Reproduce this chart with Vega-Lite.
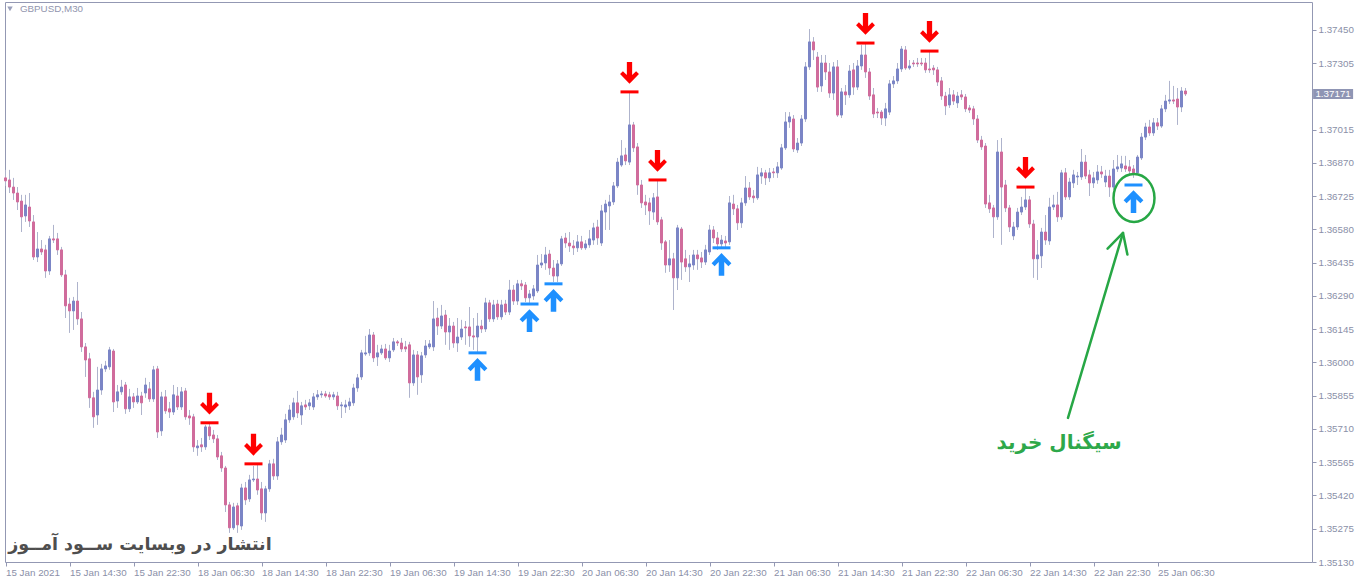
{
"$schema":"https://vega.github.io/schema/vega-lite/v6.json",
"width":1307,"height":560,
"autosize":{"type":"none"},
"padding":{"left":5,"top":2,"right":48,"bottom":19},
"background":"white",
"config":{"view":{"stroke":"#9398b3","strokeWidth":1},"axis":{"grid":false,"domain":false,"labelFont":"Liberation Sans","labelFontSize":9.8,"labelColor":"#8a8fa8","tickColor":"#9398b3"}},
"datasets":{
"candles":[
{"i":0,"o":1.36805,"h":1.36840,"l":1.36770,"c":1.36792},
{"i":1,"o":1.36796,"h":1.36840,"l":1.36739,"c":1.36765},
{"i":2,"o":1.36765,"h":1.36805,"l":1.36709,"c":1.36739},
{"i":3,"o":1.36739,"h":1.36765,"l":1.36665,"c":1.36700},
{"i":4,"o":1.36704,"h":1.36731,"l":1.36569,"c":1.36635},
{"i":5,"o":1.36639,"h":1.36731,"l":1.36613,"c":1.36687},
{"i":6,"o":1.36678,"h":1.36739,"l":1.36591,"c":1.36617},
{"i":7,"o":1.36613,"h":1.36643,"l":1.36447,"c":1.36460},
{"i":8,"o":1.36460,"h":1.36569,"l":1.36438,"c":1.36495},
{"i":9,"o":1.36495,"h":1.36534,"l":1.36469,"c":1.36482},
{"i":10,"o":1.36491,"h":1.36513,"l":1.36369,"c":1.36399},
{"i":11,"o":1.36399,"h":1.36552,"l":1.36382,"c":1.36539},
{"i":12,"o":1.36539,"h":1.36600,"l":1.36521,"c":1.36534},
{"i":13,"o":1.36539,"h":1.36565,"l":1.36469,"c":1.36491},
{"i":14,"o":1.36491,"h":1.36504,"l":1.36373,"c":1.36382},
{"i":15,"o":1.36382,"h":1.36404,"l":1.36194,"c":1.36247},
{"i":16,"o":1.36255,"h":1.36282,"l":1.36129,"c":1.36225},
{"i":17,"o":1.36225,"h":1.36286,"l":1.36142,"c":1.36268},
{"i":18,"o":1.36268,"h":1.36351,"l":1.36164,"c":1.36190},
{"i":19,"o":1.36190,"h":1.36220,"l":1.36046,"c":1.36068},
{"i":20,"o":1.36068,"h":1.36085,"l":1.35937,"c":1.36011},
{"i":21,"o":1.36016,"h":1.36042,"l":1.35802,"c":1.35846},
{"i":22,"o":1.35846,"h":1.35872,"l":1.35715,"c":1.35763},
{"i":23,"o":1.35771,"h":1.35981,"l":1.35728,"c":1.35880},
{"i":24,"o":1.35880,"h":1.35994,"l":1.35859,"c":1.35972},
{"i":25,"o":1.35972,"h":1.36007,"l":1.35959,"c":1.35985},
{"i":26,"o":1.35981,"h":1.36068,"l":1.35968,"c":1.36055},
{"i":27,"o":1.36050,"h":1.36059,"l":1.35784,"c":1.35828},
{"i":28,"o":1.35832,"h":1.35902,"l":1.35802,"c":1.35872},
{"i":29,"o":1.35872,"h":1.35924,"l":1.35859,"c":1.35893},
{"i":30,"o":1.35902,"h":1.35915,"l":1.35776,"c":1.35798},
{"i":31,"o":1.35798,"h":1.35885,"l":1.35784,"c":1.35850},
{"i":32,"o":1.35850,"h":1.35867,"l":1.35802,"c":1.35828},
{"i":33,"o":1.35828,"h":1.35889,"l":1.35819,"c":1.35854},
{"i":34,"o":1.35854,"h":1.35872,"l":1.35771,"c":1.35824},
{"i":35,"o":1.35867,"h":1.35933,"l":1.35846,"c":1.35902},
{"i":36,"o":1.35885,"h":1.35915,"l":1.35828,"c":1.35841},
{"i":37,"o":1.35841,"h":1.35985,"l":1.35828,"c":1.35968},
{"i":38,"o":1.35972,"h":1.35985,"l":1.35671,"c":1.35697},
{"i":39,"o":1.35702,"h":1.35872,"l":1.35680,"c":1.35850},
{"i":40,"o":1.35850,"h":1.35880,"l":1.35776,"c":1.35789},
{"i":41,"o":1.35798,"h":1.35828,"l":1.35758,"c":1.35784},
{"i":42,"o":1.35784,"h":1.35902,"l":1.35771,"c":1.35859},
{"i":43,"o":1.35854,"h":1.35893,"l":1.35793,"c":1.35806},
{"i":44,"o":1.35806,"h":1.35893,"l":1.35793,"c":1.35872},
{"i":45,"o":1.35876,"h":1.35889,"l":1.35750,"c":1.35763},
{"i":46,"o":1.35767,"h":1.35793,"l":1.35728,"c":1.35758},
{"i":47,"o":1.35763,"h":1.35776,"l":1.35610,"c":1.35632},
{"i":48,"o":1.35628,"h":1.35662,"l":1.35593,"c":1.35636},
{"i":49,"o":1.35641,"h":1.35671,"l":1.35610,"c":1.35632},
{"i":50,"o":1.35632,"h":1.35728,"l":1.35619,"c":1.35719},
{"i":51,"o":1.35719,"h":1.35733,"l":1.35662,"c":1.35680},
{"i":52,"o":1.35684,"h":1.35706,"l":1.35649,"c":1.35667},
{"i":53,"o":1.35667,"h":1.35684,"l":1.35575,"c":1.35588},
{"i":54,"o":1.35593,"h":1.35610,"l":1.35523,"c":1.35540},
{"i":55,"o":1.35540,"h":1.35549,"l":1.35348,"c":1.35379},
{"i":56,"o":1.35379,"h":1.35392,"l":1.35257,"c":1.35279},
{"i":57,"o":1.35279,"h":1.35388,"l":1.35270,"c":1.35370},
{"i":58,"o":1.35375,"h":1.35388,"l":1.35257,"c":1.35292},
{"i":59,"o":1.35287,"h":1.35471,"l":1.35270,"c":1.35453},
{"i":60,"o":1.35453,"h":1.35479,"l":1.35379,"c":1.35401},
{"i":61,"o":1.35405,"h":1.35510,"l":1.35392,"c":1.35488},
{"i":62,"o":1.35488,"h":1.35549,"l":1.35479,"c":1.35492},
{"i":63,"o":1.35492,"h":1.35558,"l":1.35423,"c":1.35444},
{"i":64,"o":1.35449,"h":1.35479,"l":1.35314,"c":1.35344},
{"i":65,"o":1.35344,"h":1.35462,"l":1.35305,"c":1.35449},
{"i":66,"o":1.35449,"h":1.35575,"l":1.35436,"c":1.35558},
{"i":67,"o":1.35558,"h":1.35580,"l":1.35488,"c":1.35505},
{"i":68,"o":1.35505,"h":1.35675,"l":1.35488,"c":1.35654},
{"i":69,"o":1.35654,"h":1.35715,"l":1.35641,"c":1.35684},
{"i":70,"o":1.35662,"h":1.35776,"l":1.35649,"c":1.35750},
{"i":71,"o":1.35750,"h":1.35815,"l":1.35737,"c":1.35793},
{"i":72,"o":1.35763,"h":1.35846,"l":1.35750,"c":1.35824},
{"i":73,"o":1.35824,"h":1.35876,"l":1.35758,"c":1.35780},
{"i":74,"o":1.35771,"h":1.35828,"l":1.35728,"c":1.35811},
{"i":75,"o":1.35815,"h":1.35837,"l":1.35793,"c":1.35806},
{"i":76,"o":1.35811,"h":1.35841,"l":1.35793,"c":1.35824},
{"i":77,"o":1.35806,"h":1.35867,"l":1.35793,"c":1.35850},
{"i":78,"o":1.35850,"h":1.35880,"l":1.35837,"c":1.35859},
{"i":79,"o":1.35859,"h":1.35876,"l":1.35846,"c":1.35863},
{"i":80,"o":1.35863,"h":1.35876,"l":1.35846,"c":1.35854},
{"i":81,"o":1.35859,"h":1.35872,"l":1.35837,"c":1.35850},
{"i":82,"o":1.35850,"h":1.35872,"l":1.35837,"c":1.35859},
{"i":83,"o":1.35854,"h":1.35872,"l":1.35793,"c":1.35811},
{"i":84,"o":1.35811,"h":1.35828,"l":1.35758,"c":1.35815},
{"i":85,"o":1.35806,"h":1.35837,"l":1.35780,"c":1.35815},
{"i":86,"o":1.35811,"h":1.35846,"l":1.35793,"c":1.35828},
{"i":87,"o":1.35824,"h":1.35907,"l":1.35811,"c":1.35889},
{"i":88,"o":1.35889,"h":1.35950,"l":1.35872,"c":1.35933},
{"i":89,"o":1.35937,"h":1.36055,"l":1.35924,"c":1.36042},
{"i":90,"o":1.36037,"h":1.36116,"l":1.36029,"c":1.36042},
{"i":91,"o":1.36042,"h":1.36146,"l":1.36029,"c":1.36120},
{"i":92,"o":1.36120,"h":1.36133,"l":1.36002,"c":1.36020},
{"i":93,"o":1.36024,"h":1.36077,"l":1.35985,"c":1.36042},
{"i":94,"o":1.36042,"h":1.36077,"l":1.36033,"c":1.36059},
{"i":95,"o":1.36059,"h":1.36081,"l":1.36011,"c":1.36020},
{"i":96,"o":1.36020,"h":1.36077,"l":1.36002,"c":1.36050},
{"i":97,"o":1.36055,"h":1.36107,"l":1.36046,"c":1.36090},
{"i":98,"o":1.36090,"h":1.36098,"l":1.36072,"c":1.36085},
{"i":99,"o":1.36085,"h":1.36107,"l":1.36046,"c":1.36059},
{"i":100,"o":1.36068,"h":1.36094,"l":1.36046,"c":1.36059},
{"i":101,"o":1.36077,"h":1.36090,"l":1.35846,"c":1.35911},
{"i":102,"o":1.35911,"h":1.36055,"l":1.35898,"c":1.36033},
{"i":103,"o":1.36033,"h":1.36050,"l":1.35859,"c":1.35937},
{"i":104,"o":1.35946,"h":1.36046,"l":1.35911,"c":1.36029},
{"i":105,"o":1.36033,"h":1.36098,"l":1.36020,"c":1.36072},
{"i":106,"o":1.36068,"h":1.36098,"l":1.36059,"c":1.36081},
{"i":107,"o":1.36068,"h":1.36268,"l":1.36050,"c":1.36190},
{"i":108,"o":1.36194,"h":1.36238,"l":1.36120,"c":1.36159},
{"i":109,"o":1.36159,"h":1.36251,"l":1.36146,"c":1.36203},
{"i":110,"o":1.36207,"h":1.36229,"l":1.36077,"c":1.36133},
{"i":111,"o":1.36133,"h":1.36194,"l":1.36055,"c":1.36159},
{"i":112,"o":1.36159,"h":1.36177,"l":1.36064,"c":1.36085},
{"i":113,"o":1.36085,"h":1.36194,"l":1.36046,"c":1.36111},
{"i":114,"o":1.36111,"h":1.36186,"l":1.36098,"c":1.36146},
{"i":115,"o":1.36155,"h":1.36181,"l":1.36077,"c":1.36151},
{"i":116,"o":1.36155,"h":1.36242,"l":1.36068,"c":1.36116},
{"i":117,"o":1.36116,"h":1.36194,"l":1.36055,"c":1.36111},
{"i":118,"o":1.36111,"h":1.36216,"l":1.36046,"c":1.36159},
{"i":119,"o":1.36159,"h":1.36186,"l":1.36129,"c":1.36146},
{"i":120,"o":1.36146,"h":1.36282,"l":1.36133,"c":1.36260},
{"i":121,"o":1.36260,"h":1.36273,"l":1.36177,"c":1.36190},
{"i":122,"o":1.36190,"h":1.36273,"l":1.36177,"c":1.36251},
{"i":123,"o":1.36255,"h":1.36273,"l":1.36186,"c":1.36199},
{"i":124,"o":1.36199,"h":1.36273,"l":1.36186,"c":1.36251},
{"i":125,"o":1.36255,"h":1.36273,"l":1.36207,"c":1.36220},
{"i":126,"o":1.36220,"h":1.36360,"l":1.36207,"c":1.36316},
{"i":127,"o":1.36316,"h":1.36338,"l":1.36251,"c":1.36268},
{"i":128,"o":1.36268,"h":1.36360,"l":1.36251,"c":1.36343},
{"i":129,"o":1.36343,"h":1.36360,"l":1.36316,"c":1.36334},
{"i":130,"o":1.36338,"h":1.36351,"l":1.36264,"c":1.36282},
{"i":131,"o":1.36282,"h":1.36316,"l":1.36260,"c":1.36299},
{"i":132,"o":1.36290,"h":1.36338,"l":1.36273,"c":1.36321},
{"i":133,"o":1.36312,"h":1.36469,"l":1.36303,"c":1.36425},
{"i":134,"o":1.36425,"h":1.36473,"l":1.36412,"c":1.36434},
{"i":135,"o":1.36434,"h":1.36504,"l":1.36404,"c":1.36469},
{"i":136,"o":1.36473,"h":1.36491,"l":1.36382,"c":1.36412},
{"i":137,"o":1.36412,"h":1.36447,"l":1.36351,"c":1.36377},
{"i":138,"o":1.36377,"h":1.36447,"l":1.36351,"c":1.36430},
{"i":139,"o":1.36430,"h":1.36552,"l":1.36421,"c":1.36539},
{"i":140,"o":1.36543,"h":1.36565,"l":1.36500,"c":1.36521},
{"i":141,"o":1.36521,"h":1.36569,"l":1.36482,"c":1.36508},
{"i":142,"o":1.36508,"h":1.36534,"l":1.36469,"c":1.36500},
{"i":143,"o":1.36500,"h":1.36556,"l":1.36482,"c":1.36526},
{"i":144,"o":1.36526,"h":1.36552,"l":1.36491,"c":1.36500},
{"i":145,"o":1.36500,"h":1.36534,"l":1.36491,"c":1.36517},
{"i":146,"o":1.36513,"h":1.36578,"l":1.36500,"c":1.36539},
{"i":147,"o":1.36534,"h":1.36609,"l":1.36513,"c":1.36587},
{"i":148,"o":1.36591,"h":1.36622,"l":1.36513,"c":1.36543},
{"i":149,"o":1.36521,"h":1.36687,"l":1.36508,"c":1.36661},
{"i":150,"o":1.36656,"h":1.36709,"l":1.36578,"c":1.36691},
{"i":151,"o":1.36683,"h":1.36731,"l":1.36578,"c":1.36700},
{"i":152,"o":1.36700,"h":1.36787,"l":1.36687,"c":1.36770},
{"i":153,"o":1.36770,"h":1.36892,"l":1.36761,"c":1.36874},
{"i":154,"o":1.36861,"h":1.36970,"l":1.36853,"c":1.36901},
{"i":155,"o":1.36905,"h":1.36936,"l":1.36861,"c":1.36879},
{"i":156,"o":1.36874,"h":1.37175,"l":1.36861,"c":1.37036},
{"i":157,"o":1.37036,"h":1.37049,"l":1.36918,"c":1.36936},
{"i":158,"o":1.36940,"h":1.36957,"l":1.36731,"c":1.36774},
{"i":159,"o":1.36774,"h":1.36796,"l":1.36674,"c":1.36696},
{"i":160,"o":1.36700,"h":1.36731,"l":1.36643,"c":1.36687},
{"i":161,"o":1.36696,"h":1.36718,"l":1.36600,"c":1.36661},
{"i":162,"o":1.36656,"h":1.36739,"l":1.36622,"c":1.36718},
{"i":163,"o":1.36722,"h":1.36796,"l":1.36600,"c":1.36613},
{"i":164,"o":1.36622,"h":1.36635,"l":1.36491,"c":1.36521},
{"i":165,"o":1.36526,"h":1.36534,"l":1.36391,"c":1.36425},
{"i":166,"o":1.36425,"h":1.36534,"l":1.36395,"c":1.36452},
{"i":167,"o":1.36452,"h":1.36478,"l":1.36229,"c":1.36369},
{"i":168,"o":1.36369,"h":1.36600,"l":1.36316,"c":1.36587},
{"i":169,"o":1.36582,"h":1.36591,"l":1.36360,"c":1.36438},
{"i":170,"o":1.36452,"h":1.36491,"l":1.36395,"c":1.36417},
{"i":171,"o":1.36417,"h":1.36469,"l":1.36351,"c":1.36430},
{"i":172,"o":1.36425,"h":1.36491,"l":1.36404,"c":1.36469},
{"i":173,"o":1.36469,"h":1.36491,"l":1.36404,"c":1.36452},
{"i":174,"o":1.36456,"h":1.36482,"l":1.36412,"c":1.36438},
{"i":175,"o":1.36438,"h":1.36513,"l":1.36425,"c":1.36491},
{"i":176,"o":1.36482,"h":1.36600,"l":1.36469,"c":1.36578},
{"i":177,"o":1.36578,"h":1.36595,"l":1.36521,"c":1.36543},
{"i":178,"o":1.36543,"h":1.36569,"l":1.36491,"c":1.36517},
{"i":179,"o":1.36517,"h":1.36556,"l":1.36504,"c":1.36534},
{"i":180,"o":1.36530,"h":1.36552,"l":1.36504,"c":1.36521},
{"i":181,"o":1.36526,"h":1.36726,"l":1.36513,"c":1.36696},
{"i":182,"o":1.36691,"h":1.36731,"l":1.36643,"c":1.36670},
{"i":183,"o":1.36670,"h":1.36687,"l":1.36578,"c":1.36609},
{"i":184,"o":1.36609,"h":1.36718,"l":1.36587,"c":1.36696},
{"i":185,"o":1.36696,"h":1.36813,"l":1.36683,"c":1.36761},
{"i":186,"o":1.36761,"h":1.36787,"l":1.36709,"c":1.36722},
{"i":187,"o":1.36726,"h":1.36752,"l":1.36696,"c":1.36718},
{"i":188,"o":1.36718,"h":1.36853,"l":1.36709,"c":1.36818},
{"i":189,"o":1.36813,"h":1.36848,"l":1.36779,"c":1.36827},
{"i":190,"o":1.36827,"h":1.36840,"l":1.36774,"c":1.36805},
{"i":191,"o":1.36805,"h":1.36848,"l":1.36787,"c":1.36827},
{"i":192,"o":1.36831,"h":1.36848,"l":1.36805,"c":1.36827},
{"i":193,"o":1.36827,"h":1.36874,"l":1.36805,"c":1.36853},
{"i":194,"o":1.36848,"h":1.36953,"l":1.36840,"c":1.36936},
{"i":195,"o":1.36936,"h":1.37092,"l":1.36927,"c":1.37049},
{"i":196,"o":1.37049,"h":1.37092,"l":1.37023,"c":1.37071},
{"i":197,"o":1.37062,"h":1.37079,"l":1.36918,"c":1.36931},
{"i":198,"o":1.36927,"h":1.36979,"l":1.36914,"c":1.36957},
{"i":199,"o":1.36957,"h":1.37079,"l":1.36944,"c":1.37062},
{"i":200,"o":1.37062,"h":1.37310,"l":1.37049,"c":1.37289},
{"i":201,"o":1.37289,"h":1.37454,"l":1.37276,"c":1.37398},
{"i":202,"o":1.37398,"h":1.37419,"l":1.37319,"c":1.37363},
{"i":203,"o":1.37332,"h":1.37354,"l":1.37180,"c":1.37201},
{"i":204,"o":1.37206,"h":1.37341,"l":1.37180,"c":1.37306},
{"i":205,"o":1.37306,"h":1.37341,"l":1.37232,"c":1.37267},
{"i":206,"o":1.37267,"h":1.37306,"l":1.37154,"c":1.37175},
{"i":207,"o":1.37175,"h":1.37310,"l":1.37145,"c":1.37289},
{"i":208,"o":1.37289,"h":1.37319,"l":1.37071,"c":1.37079},
{"i":209,"o":1.37079,"h":1.37197,"l":1.37066,"c":1.37180},
{"i":210,"o":1.37180,"h":1.37210,"l":1.37123,"c":1.37167},
{"i":211,"o":1.37167,"h":1.37297,"l":1.37154,"c":1.37271},
{"i":212,"o":1.37276,"h":1.37306,"l":1.37167,"c":1.37201},
{"i":213,"o":1.37201,"h":1.37319,"l":1.37188,"c":1.37293},
{"i":214,"o":1.37293,"h":1.37385,"l":1.37276,"c":1.37341},
{"i":215,"o":1.37341,"h":1.37393,"l":1.37241,"c":1.37267},
{"i":216,"o":1.37267,"h":1.37284,"l":1.37145,"c":1.37162},
{"i":217,"o":1.37167,"h":1.37197,"l":1.37066,"c":1.37084},
{"i":218,"o":1.37092,"h":1.37110,"l":1.37066,"c":1.37088},
{"i":219,"o":1.37092,"h":1.37101,"l":1.37036,"c":1.37066},
{"i":220,"o":1.37066,"h":1.37132,"l":1.37031,"c":1.37106},
{"i":221,"o":1.37092,"h":1.37232,"l":1.37079,"c":1.37215},
{"i":222,"o":1.37215,"h":1.37249,"l":1.37197,"c":1.37228},
{"i":223,"o":1.37228,"h":1.37306,"l":1.37215,"c":1.37280},
{"i":224,"o":1.37280,"h":1.37380,"l":1.37267,"c":1.37367},
{"i":225,"o":1.37363,"h":1.37380,"l":1.37276,"c":1.37284},
{"i":226,"o":1.37284,"h":1.37319,"l":1.37276,"c":1.37293},
{"i":227,"o":1.37306,"h":1.37319,"l":1.37289,"c":1.37302},
{"i":228,"o":1.37306,"h":1.37328,"l":1.37289,"c":1.37302},
{"i":229,"o":1.37306,"h":1.37328,"l":1.37293,"c":1.37302},
{"i":230,"o":1.37306,"h":1.37328,"l":1.37263,"c":1.37276},
{"i":231,"o":1.37280,"h":1.37354,"l":1.37263,"c":1.37276},
{"i":232,"o":1.37284,"h":1.37297,"l":1.37254,"c":1.37276},
{"i":233,"o":1.37276,"h":1.37289,"l":1.37206,"c":1.37223},
{"i":234,"o":1.37228,"h":1.37245,"l":1.37145,"c":1.37162},
{"i":235,"o":1.37162,"h":1.37180,"l":1.37079,"c":1.37119},
{"i":236,"o":1.37123,"h":1.37197,"l":1.37110,"c":1.37167},
{"i":237,"o":1.37167,"h":1.37188,"l":1.37123,"c":1.37140},
{"i":238,"o":1.37132,"h":1.37180,"l":1.37110,"c":1.37162},
{"i":239,"o":1.37167,"h":1.37188,"l":1.37145,"c":1.37158},
{"i":240,"o":1.37158,"h":1.37171,"l":1.37092,"c":1.37106},
{"i":241,"o":1.37110,"h":1.37123,"l":1.37088,"c":1.37101},
{"i":242,"o":1.37106,"h":1.37119,"l":1.37036,"c":1.37062},
{"i":243,"o":1.37062,"h":1.37079,"l":1.36957,"c":1.36970},
{"i":244,"o":1.36970,"h":1.36988,"l":1.36927,"c":1.36940},
{"i":245,"o":1.36944,"h":1.36957,"l":1.36674,"c":1.36691},
{"i":246,"o":1.36696,"h":1.36731,"l":1.36652,"c":1.36670},
{"i":247,"o":1.36674,"h":1.36687,"l":1.36543,"c":1.36635},
{"i":248,"o":1.36635,"h":1.36970,"l":1.36622,"c":1.36918},
{"i":249,"o":1.36918,"h":1.36979,"l":1.36513,"c":1.36765},
{"i":250,"o":1.36774,"h":1.36796,"l":1.36656,"c":1.36674},
{"i":251,"o":1.36674,"h":1.36687,"l":1.36569,"c":1.36591},
{"i":252,"o":1.36552,"h":1.36613,"l":1.36534,"c":1.36591},
{"i":253,"o":1.36591,"h":1.36674,"l":1.36578,"c":1.36656},
{"i":254,"o":1.36656,"h":1.36722,"l":1.36643,"c":1.36678},
{"i":255,"o":1.36678,"h":1.36765,"l":1.36665,"c":1.36709},
{"i":256,"o":1.36709,"h":1.36726,"l":1.36587,"c":1.36604},
{"i":257,"o":1.36604,"h":1.36622,"l":1.36369,"c":1.36452},
{"i":258,"o":1.36452,"h":1.36534,"l":1.36360,"c":1.36469},
{"i":259,"o":1.36465,"h":1.36587,"l":1.36412,"c":1.36569},
{"i":260,"o":1.36569,"h":1.36643,"l":1.36513,"c":1.36534},
{"i":261,"o":1.36530,"h":1.36718,"l":1.36513,"c":1.36678},
{"i":262,"o":1.36678,"h":1.36731,"l":1.36665,"c":1.36687},
{"i":263,"o":1.36687,"h":1.36744,"l":1.36613,"c":1.36635},
{"i":264,"o":1.36635,"h":1.36840,"l":1.36622,"c":1.36827},
{"i":265,"o":1.36827,"h":1.36848,"l":1.36709,"c":1.36722},
{"i":266,"o":1.36722,"h":1.36805,"l":1.36709,"c":1.36787},
{"i":267,"o":1.36783,"h":1.36840,"l":1.36761,"c":1.36818},
{"i":268,"o":1.36809,"h":1.36831,"l":1.36774,"c":1.36813},
{"i":269,"o":1.36809,"h":1.36931,"l":1.36796,"c":1.36874},
{"i":270,"o":1.36874,"h":1.36905,"l":1.36800,"c":1.36813},
{"i":271,"o":1.36818,"h":1.36840,"l":1.36726,"c":1.36783},
{"i":272,"o":1.36783,"h":1.36831,"l":1.36761,"c":1.36805},
{"i":273,"o":1.36796,"h":1.36861,"l":1.36779,"c":1.36831},
{"i":274,"o":1.36831,"h":1.36857,"l":1.36805,"c":1.36822},
{"i":275,"o":1.36787,"h":1.36840,"l":1.36765,"c":1.36813},
{"i":276,"o":1.36813,"h":1.36840,"l":1.36722,"c":1.36765},
{"i":277,"o":1.36765,"h":1.36883,"l":1.36753,"c":1.36844},
{"i":278,"o":1.36844,"h":1.36905,"l":1.36831,"c":1.36853},
{"i":279,"o":1.36848,"h":1.36901,"l":1.36831,"c":1.36866},
{"i":280,"o":1.36857,"h":1.36901,"l":1.36831,"c":1.36844},
{"i":281,"o":1.36853,"h":1.36883,"l":1.36818,"c":1.36835},
{"i":282,"o":1.36844,"h":1.36861,"l":1.36805,"c":1.36827},
{"i":283,"o":1.36827,"h":1.36905,"l":1.36818,"c":1.36896},
{"i":284,"o":1.36892,"h":1.37001,"l":1.36883,"c":1.36983},
{"i":285,"o":1.36983,"h":1.37045,"l":1.36970,"c":1.37027},
{"i":286,"o":1.37027,"h":1.37058,"l":1.36988,"c":1.37001},
{"i":287,"o":1.37001,"h":1.37066,"l":1.36988,"c":1.37045},
{"i":288,"o":1.37045,"h":1.37066,"l":1.37014,"c":1.37031},
{"i":289,"o":1.37031,"h":1.37123,"l":1.37023,"c":1.37106},
{"i":290,"o":1.37106,"h":1.37167,"l":1.37092,"c":1.37140},
{"i":291,"o":1.37140,"h":1.37228,"l":1.37127,"c":1.37145},
{"i":292,"o":1.37145,"h":1.37206,"l":1.37127,"c":1.37140},
{"i":293,"o":1.37149,"h":1.37197,"l":1.37036,"c":1.37114},
{"i":294,"o":1.37114,"h":1.37201,"l":1.37092,"c":1.37184},
{"i":295,"o":1.37184,"h":1.37197,"l":1.37162,"c":1.37171}
],
"signals":[
{"i":51,"p":1.35737,"dir":"down"},
{"i":62,"p":1.35558,"dir":"down"},
{"i":156,"p":1.37180,"dir":"down"},
{"i":163,"p":1.36796,"dir":"down"},
{"i":215,"p":1.37393,"dir":"down"},
{"i":231,"p":1.37358,"dir":"down"},
{"i":255,"p":1.36765,"dir":"down"},
{"i":118,"p":1.36042,"dir":"up"},
{"i":131,"p":1.36255,"dir":"up"},
{"i":137,"p":1.36343,"dir":"up"},
{"i":179,"p":1.36500,"dir":"up"},
{"i":282,"p":1.36774,"dir":"up"}
],
"pointer":[
{"seg":"shaft","k":0,"i":265.625,"p":1.357583},
{"seg":"shaft","k":1,"i":279.375,"p":1.365649},
{"seg":"head","k":0,"i":275.525,"p":1.364965},
{"seg":"head","k":1,"i":279.375,"p":1.365649},
{"seg":"head","k":2,"i":280.475,"p":1.364707}
]
},
"data":{"name":"candles"},
"encoding":{
 "x":{"field":"i","type":"quantitative","title":null,"scale":{"domain":[-0.125,326.625],"nice":false,"zero":false,"padding":0},
  "axis":{"orient":"bottom","values":[0,16,32,48,64,80,96,112,128,144,160,176,192,208,224,240,256,272,288],
   "labelExpr":"['15 Jan 2021','15 Jan 14:30','15 Jan 22:30','18 Jan 06:30','18 Jan 14:30','18 Jan 22:30','19 Jan 06:30','19 Jan 14:30','19 Jan 22:30','20 Jan 06:30','20 Jan 14:30','20 Jan 22:30','21 Jan 06:30','21 Jan 14:30','21 Jan 22:30','22 Jan 06:30','22 Jan 14:30','22 Jan 22:30','25 Jan 06:30'][round(datum.value/16)]",
   "tickSize":4,"labelAlign":"left","labelBaseline":"top","labelPadding":1,"labelDx":1,"labelFlush":false,"labelOverlap":false,"domain":false,"grid":false,"title":null}},
 "y":{"field":"l","type":"quantitative","title":null,"scale":{"domain":[1.3513,1.37572],"nice":false,"zero":false,"padding":0},
  "axis":{"orient":"right","values":[1.3513,1.35275,1.3542,1.35565,1.3571,1.35855,1.36,1.36145,1.3629,1.36435,1.3658,1.36725,1.3687,1.37015,1.37305,1.3745],"format":".5f","tickSize":4,"labelPadding":2,"labelFlush":false,"labelOverlap":false,"domain":false,"grid":false,"title":null}}
},
"layer":[
{"mark":{"type":"rule","color":"#aeb3cc","strokeWidth":1},
 "encoding":{"y2":{"field":"h"}}},
{"mark":{"type":"bar","size":2,"strokeWidth":1,"opacity":1},
 "encoding":{"y":{"field":"o","type":"quantitative","title":null,"scale":{"domain":[1.3513,1.37572],"nice":false,"zero":false,"padding":0}},
   "y2":{"field":"c"},
   "fill":{"condition":{"test":"datum.c >= datum.o","value":"#7b85c6"},"value":"#d06c9c"},
   "stroke":{"condition":{"test":"datum.c >= datum.o","value":"#7b85c6"},"value":"#d06c9c"}}},
{"data":{"name":"signals"},
 "mark":{"type":"tick","orient":"horizontal","size":18,"thickness":3,"opacity":1},
 "encoding":{"y":{"field":"p","type":"quantitative","title":null,"scale":{"domain":[1.3513,1.37572],"nice":false,"zero":false,"padding":0}},
   "color":{"condition":{"test":"datum.dir == 'down'","value":"#ff0000"},"value":"#1e90ff"}}},
{"data":{"name":"signals"},
 "transform":[{"filter":"datum.dir == 'down'"}],
 "mark":{"type":"point","filled":true,"opacity":1,"color":"#ff0000","size":484,"yOffset":-19,
   "shape":"M-0.24,-1L0.24,-1L0.24,0.2L0.6,-0.16L0.86,0.1L0,0.98L-0.86,0.1L-0.6,-0.16L-0.24,0.2Z"},
 "encoding":{"y":{"field":"p","type":"quantitative","title":null,"scale":{"domain":[1.3513,1.37572],"nice":false,"zero":false,"padding":0}}}},
{"data":{"name":"signals"},
 "transform":[{"filter":"datum.dir == 'up'"}],
 "mark":{"type":"point","filled":true,"opacity":1,"color":"#1e90ff","size":529,"yOffset":16.5,
   "shape":"M-0.24,1L0.24,1L0.24,-0.2L0.6,0.16L0.86,-0.1L0,-0.98L-0.86,-0.1L-0.6,0.16L-0.24,-0.2Z"},
 "encoding":{"y":{"field":"p","type":"quantitative","title":null,"scale":{"domain":[1.3513,1.37572],"nice":false,"zero":false,"padding":0}}}},
{"data":{"name":"pointer"},
 "mark":{"type":"line","color":"#27a745","strokeWidth":2.5,"strokeCap":"round","strokeJoin":"round"},
 "encoding":{"y":{"field":"p","type":"quantitative","title":null,"scale":{"domain":[1.3513,1.37572],"nice":false,"zero":false,"padding":0}},
   "detail":{"field":"seg"},"order":{"field":"k"}}},
{"data":{"values":[{"i":282.125,"p":1.367175}]},
 "mark":{"type":"point","filled":false,"opacity":1,"color":"#27a745","strokeWidth":2.5,"size":2304,
   "shape":"M0.854,0C0.854,0.5523,0.4717,1,0,1C-0.4717,1,-0.854,0.5523,-0.854,0C-0.854,-0.5523,-0.4717,-1,0,-1C0.4717,-1,0.854,-0.5523,0.854,0Z"},
 "encoding":{"y":{"field":"p","type":"quantitative","title":null,"scale":{"domain":[1.3513,1.37572],"nice":false,"zero":false,"padding":0}}}},
{"data":{"values":[{"i":263.4,"p":1.356493,"label":"سیگنال خرید"}]},
 "mark":{"type":"text","font":"DejaVu Sans","fontWeight":"bold","fontSize":20,"color":"#2ea84a","align":"center","baseline":"middle"},
 "encoding":{"y":{"field":"p","type":"quantitative","title":null,"scale":{"domain":[1.3513,1.37572],"nice":false,"zero":false,"padding":0}},
   "text":{"field":"label"}}},
{"data":{"values":[{"i":33.6,"p":1.35205,"label":"انتشار در وبسایت ســود آمــوز"}]},
 "mark":{"type":"text","font":"DejaVu Sans","fontWeight":"bold","fontSize":17.5,"color":"#4e4e4e","align":"center","baseline":"middle"},
 "encoding":{"y":{"field":"p","type":"quantitative","title":null,"scale":{"domain":[1.3513,1.37572],"nice":false,"zero":false,"padding":0}},
   "text":{"field":"label"}}},
{"data":{"values":[{"i":1.125,"p":1.37542}]},
 "mark":{"type":"point","filled":true,"opacity":1,"shape":"triangle-down","size":30,"color":"#9aa0bb"},
 "encoding":{"y":{"field":"p","type":"quantitative","title":null,"scale":{"domain":[1.3513,1.37572],"nice":false,"zero":false,"padding":0}}}},
{"data":{"values":[{"i":3.6,"p":1.37542,"label":"GBPUSD,M30"}]},
 "mark":{"type":"text","font":"Liberation Sans","fontSize":9.8,"color":"#9195ae","align":"left","baseline":"middle"},
 "encoding":{"y":{"field":"p","type":"quantitative","title":null,"scale":{"domain":[1.3513,1.37572],"nice":false,"zero":false,"padding":0}},
   "text":{"field":"label"}}},
{"data":{"values":[{"i":331.9,"p":1.37171,"label":"1.37171"}]},
 "mark":{"type":"point","filled":true,"opacity":1,"clip":false,"color":"#8f95b4","size":1600,"shape":"M-1,-0.25L1,-0.25L1,0.25L-1,0.25Z"},
 "encoding":{"y":{"field":"p","type":"quantitative","title":null,"scale":{"domain":[1.3513,1.37572],"nice":false,"zero":false,"padding":0}}}},
{"data":{"values":[{"i":331.9,"p":1.37171,"label":"1.37171"}]},
 "mark":{"type":"text","clip":false,"font":"Liberation Sans","fontSize":9.8,"color":"#ffffff","align":"center","baseline":"middle"},
 "encoding":{"y":{"field":"p","type":"quantitative","title":null,"scale":{"domain":[1.3513,1.37572],"nice":false,"zero":false,"padding":0}},
   "text":{"field":"label"}}}
]
}
